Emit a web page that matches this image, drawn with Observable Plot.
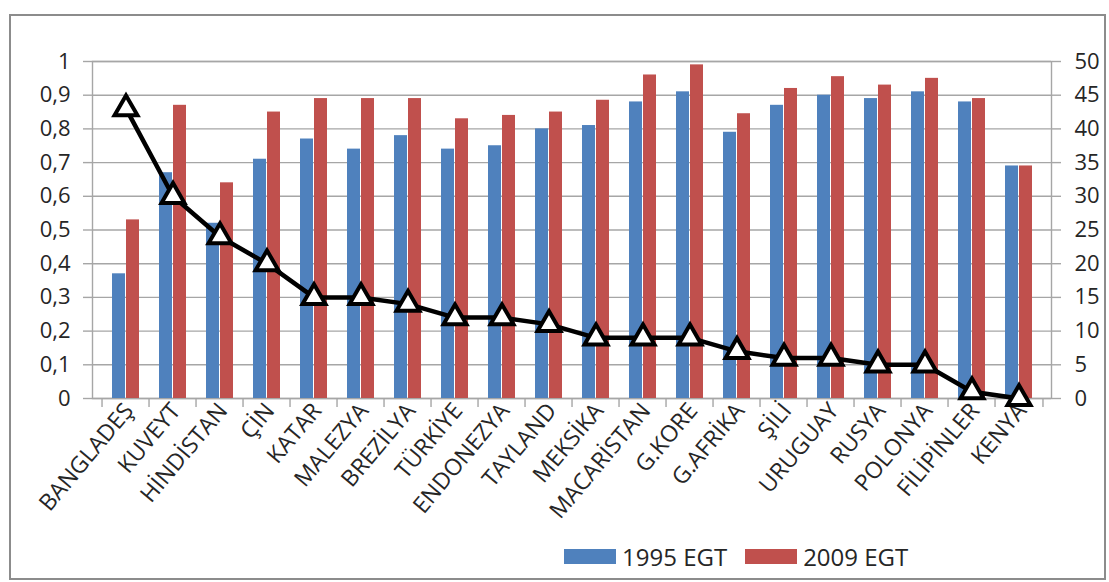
<!DOCTYPE html>
<html>
<head>
<meta charset="utf-8">
<script src="https://cdn.jsdelivr.net/npm/d3@7"></script>
<script src="https://cdn.jsdelivr.net/npm/@observablehq/plot@0.6"></script>
<style>
  body { margin: 0; background: #fff; font-family: "Open Sans", sans-serif; }
  #wrap { position: relative; width: 1109px; height: 582px; overflow: hidden; }
  #border { position: absolute; left: 9px; top: 14px; width: 1097px; height: 566px; border: 2px solid #8c8c8c; box-sizing: border-box; }
  #chart { position: absolute; left: 0; top: 0; }
  #legend { position: absolute; left: 564px; top: 540px; height: 32px; display: flex; align-items: center; font-size: 24px; color: #262626; }
  .sw { width: 52px; height: 15px; margin-right: 6px; }
  .item { display: flex; align-items: center; margin-right: 18px; }
</style>
</head>
<body>
<div id="wrap">
  <div id="border"></div>
  <div id="chart"></div>
  <div id="legend"></div>
</div>
<script>
const categories = ["BANGLADEŞ","KUVEYT","HİNDİSTAN","ÇİN","KATAR","MALEZYA","BREZİLYA","TÜRKİYE","ENDONEZYA","TAYLAND","MEKSİKA","MACARİSTAN","G.KORE","G.AFRİKA","ŞİLİ","URUGUAY","RUSYA","POLONYA","FİLİPİNLER","KENYA"];
const egt1995 = [0.37,0.67,0.52,0.71,0.77,0.74,0.78,0.74,0.75,0.80,0.81,0.88,0.91,0.79,0.87,0.90,0.89,0.91,0.88,0.69];
const egt2009 = [0.53,0.87,0.64,0.85,0.89,0.89,0.89,0.83,0.84,0.85,0.885,0.96,0.99,0.845,0.92,0.955,0.93,0.95,0.89,0.69];
const lineValues = [43,30,24,20,15,15,14,12,12,11,9,9,9,7,6,6,5,5,1,0];
const leftTicks = [0,0.1,0.2,0.3,0.4,0.5,0.6,0.7,0.8,0.9,1];
const leftTickLabels = ["0","0,1","0,2","0,3","0,4","0,5","0,6","0,7","0,8","0,9","1"];
const rightTicks = [0,5,10,15,20,25,30,35,40,45,50];
const rightMax = 50;
const seriesNames = ["1995 EGT","2009 EGT"];
const seriesColors = ["#4F81BD","#C0504D"];

const data = categories.map((c, i) => ({cat: c, v95: egt1995[i], v09: egt2009[i], line: lineValues[i] / rightMax}));

const W = 1109, H = 530, ML = 92, MR = 58, MT = 61, MB = 132;
const step = (W - ML - MR) / categories.length;
const gridColor = "#a6a6a6";
const textColor = "#262626";

const chart = Plot.plot({
  width: W, height: H,
  marginLeft: ML, marginRight: MR, marginTop: MT, marginBottom: MB,
  style: {fontFamily: "Open Sans", fontSize: "22px", color: textColor, background: "transparent", overflow: "visible"},
  x: {type: "band", domain: categories, padding: 0, axis: null, label: null},
  y: {domain: [0, 1], axis: null, label: null},
  marks: [
    Plot.ruleY(leftTicks, {stroke: gridColor, strokeWidth: 1.4}),
    Plot.frame({stroke: gridColor, strokeWidth: 1.4}),
    Plot.ruleX(categories, {x: d => d, y1: 0, y2: -0.027, dx: -step / 2, stroke: gridColor, strokeWidth: 1.4}),
    Plot.ruleX(categories.slice(-1), {x: d => d, y1: 0, y2: -0.027, dx: step / 2, stroke: gridColor, strokeWidth: 1.4}),
    Plot.axisY({anchor: "left", label: null, ticks: leftTicks, tickSize: 9, tickPadding: 13, stroke: gridColor, strokeWidth: 1.4, fill: textColor,
      tickFormat: d => leftTickLabels[leftTicks.findIndex(t => Math.abs(t - d) < 1e-9)]}),
    Plot.axisY({anchor: "right", label: null, ticks: rightTicks.map(v => v / rightMax), tickSize: 9, tickPadding: 14, stroke: gridColor, strokeWidth: 1.4, fill: textColor,
      tickFormat: d => String(rightTicks[rightTicks.findIndex(t => Math.abs(t / rightMax - d) < 1e-9)])}),
    Plot.axisX({label: null, tickSize: 0, tickPadding: 8, tickRotate: -50, fontSize: 23, dx: 3, fill: textColor}),
    Plot.barY(data, {x: "cat", y: "v95", fill: seriesColors[0], insetLeft: 10, insetRight: 24}),
    Plot.barY(data, {x: "cat", y: "v09", fill: seriesColors[1], insetLeft: 24, insetRight: 10}),
    Plot.line(data, {x: "cat", y: "line", stroke: "#000", strokeWidth: 4.5, strokeLinejoin: "round"}),
    Plot.dot(data, {x: "cat", y: "line", symbol: "triangle", r: 8.5, fill: "#fff", stroke: "#000", strokeWidth: 4})
  ]
});
document.getElementById("chart").appendChild(chart);

const legend = document.getElementById("legend");
seriesNames.forEach((name, i) => {
  const item = document.createElement("div");
  item.className = "item";
  const sw = document.createElement("div");
  sw.className = "sw";
  sw.style.background = seriesColors[i];
  const t = document.createElement("span");
  t.textContent = name;
  item.appendChild(sw);
  item.appendChild(t);
  legend.appendChild(item);
});
</script>
</body>
</html>
